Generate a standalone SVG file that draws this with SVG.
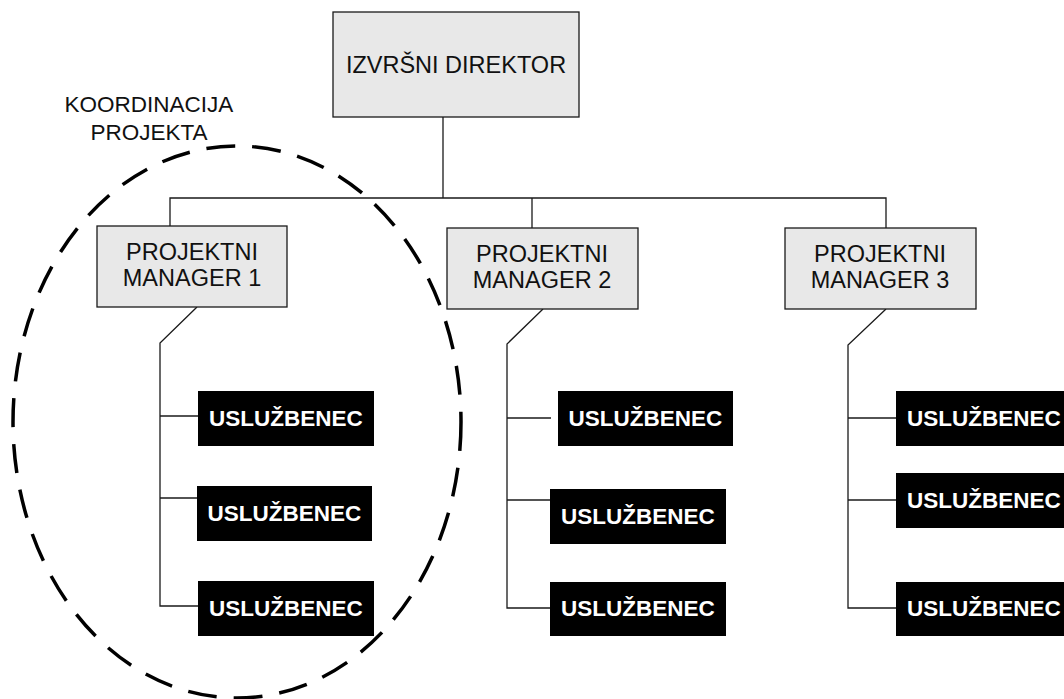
<svg xmlns="http://www.w3.org/2000/svg" width="1064" height="699" viewBox="0 0 1064 699">
  <style>
    .mgr { fill: #e8e8e8; stroke: #1a1a1a; stroke-width: 1.3; }
    .emp { fill: #000000; }
    .lbl { font-family: "Liberation Sans", Arial, sans-serif; font-size: 23.5px; fill: #111111; text-anchor: middle; }
    .emp-t { font-family: "Liberation Sans", Arial, sans-serif; font-size: 22.5px; font-weight: bold; fill: #ffffff; text-anchor: middle; }
    .note { font-family: "Liberation Sans", Arial, sans-serif; font-size: 22.5px; fill: #111111; text-anchor: middle; }
    .wire { fill: none; stroke: #1a1a1a; stroke-width: 1.3; }
    .zone { fill: none; stroke: #000000; stroke-width: 3.5; stroke-dasharray: 29 17; }
  </style>

  <rect width="1064" height="699" fill="#ffffff"/>

  <!-- connectors -->
  <g id="connectors">
    <path class="wire" d="M443,117 V198"/>
    <path class="wire" d="M170,226 V198 H886 V228"/>
    <path class="wire" d="M532,198 V228"/>
    <!-- manager 1 -->
    <path class="wire" d="M197,307 L160,343 V606 H198"/>
    <path class="wire" d="M160,416 H198"/>
    <path class="wire" d="M160,498 H197"/>
    <!-- manager 2 -->
    <path class="wire" d="M543,309 L507,344 V608 H550"/>
    <path class="wire" d="M507,418 H551"/>
    <path class="wire" d="M507,500 H550"/>
    <!-- manager 3 -->
    <path class="wire" d="M886,309 L848,345 V608 H896"/>
    <path class="wire" d="M848,418 H896"/>
    <path class="wire" d="M848,500 H896"/>
  </g>

  <!-- top -->
  <g id="director">
    <rect class="mgr" x="333" y="12" width="246" height="105"/>
    <text class="lbl" x="456" y="73">IZVRŠNI DIREKTOR</text>
  </g>

  <!-- managers -->
  <g id="manager-1">
    <rect class="mgr" x="97" y="226" width="190" height="81"/>
    <text class="lbl" x="192" y="260">PROJEKTNI</text>
    <text class="lbl" x="192" y="286">MANAGER 1</text>
  </g>
  <g id="manager-2">
    <rect class="mgr" x="447" y="228" width="191" height="81"/>
    <text class="lbl" x="542" y="262">PROJEKTNI</text>
    <text class="lbl" x="542" y="288">MANAGER 2</text>
  </g>
  <g id="manager-3">
    <rect class="mgr" x="785" y="228" width="191" height="81"/>
    <text class="lbl" x="880" y="262">PROJEKTNI</text>
    <text class="lbl" x="880" y="288">MANAGER 3</text>
  </g>

  <!-- staff under manager 1 -->
  <g id="employee-1-1">
    <rect class="emp" x="198" y="391" width="176" height="55"/>
    <text class="emp-t" x="286" y="426">USLUŽBENEC</text>
  </g>
  <g id="employee-1-2">
    <rect class="emp" x="197" y="486" width="175" height="55"/>
    <text class="emp-t" x="284.5" y="521">USLUŽBENEC</text>
  </g>
  <g id="employee-1-3">
    <rect class="emp" x="198" y="581" width="176" height="55"/>
    <text class="emp-t" x="286" y="616">USLUŽBENEC</text>
  </g>

  <!-- staff under manager 2 -->
  <g id="employee-2-1">
    <rect class="emp" x="558" y="391" width="175" height="55"/>
    <text class="emp-t" x="645.5" y="426">USLUŽBENEC</text>
  </g>
  <g id="employee-2-2">
    <rect class="emp" x="550" y="489" width="176" height="55"/>
    <text class="emp-t" x="638" y="524">USLUŽBENEC</text>
  </g>
  <g id="employee-2-3">
    <rect class="emp" x="550" y="582" width="176" height="54"/>
    <text class="emp-t" x="638" y="616">USLUŽBENEC</text>
  </g>

  <!-- staff under manager 3 -->
  <g id="employee-3-1">
    <rect class="emp" x="896" y="391" width="176" height="55"/>
    <text class="emp-t" x="984" y="426">USLUŽBENEC</text>
  </g>
  <g id="employee-3-2">
    <rect class="emp" x="896" y="473" width="176" height="55"/>
    <text class="emp-t" x="984" y="508">USLUŽBENEC</text>
  </g>
  <g id="employee-3-3">
    <rect class="emp" x="896" y="582" width="176" height="54"/>
    <text class="emp-t" x="984" y="616">USLUŽBENEC</text>
  </g>

  <!-- coordination zone -->
  <g id="coordination">
    <ellipse class="zone" cx="237" cy="422" rx="224" ry="276"/>
    <text class="note" x="149" y="112">KOORDINACIJA</text>
    <text class="note" x="149" y="140">PROJEKTA</text>
  </g>
</svg>
